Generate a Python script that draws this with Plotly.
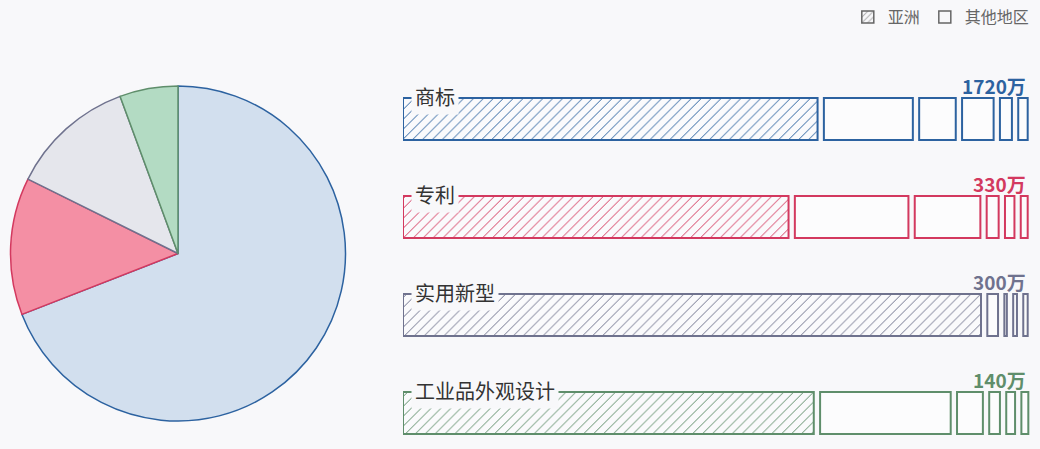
import plotly.graph_objects as go

# data
categories = ["商标", "专利", "实用新型", "工业品外观设计"]
totals = [1720, 330, 300, 140]  # 万
asia_share = [66.7, 62.1, 92.6, 66.1]  # % of each row
other_shares = [
    [15.1, 6.8, 6.0, 2.9, 2.5],
    [19.0, 11.4, 2.9, 2.5, 2.1],
    [2.7, 1.4, 1.6, 1.7],
    [21.7, 5.1, 2.7, 2.4, 2.1],
]
legend_names = ["亚洲", "其他地区"]

line_colors = ["#2c62a0", "#d3395f", "#6f728e", "#5f8e6b"]
fill_colors = ["#d2dfee", "#f48fa4", "#e5e6ec", "#b3dbc3"]
BG = "#f8f8fa"
FONT = "Noto Sans CJK SC"
GAP = 1.0  # gap between segments, in % units

fig = go.Figure()

# pie on the left
fig.add_trace(go.Pie(
    labels=categories,
    values=totals,
    sort=False,
    direction="clockwise",
    rotation=0,
    textinfo="none",
    hoverinfo="label+value",
    marker=dict(colors=fill_colors, line=dict(color=line_colors, width=1.5)),
    domain=dict(x=[10 / 1040, 346 / 1040], y=[1 - 421 / 449, 1 - 86 / 449]),
    showlegend=False,
))

# little centre dot of the pie
fig.add_trace(go.Scatter(
    x=[0], y=[0], mode="markers", xaxis="x2", yaxis="y2",
    marker=dict(size=9, color="white", line=dict(color="black", width=2)),
    showlegend=False, hoverinfo="skip",
))

# asia (hatched) segment of each row
fig.add_trace(go.Bar(
    y=categories,
    x=[v - GAP for v in asia_share],
    base=[0] * len(categories),
    orientation="h",
    width=0.43,
    marker=dict(
        color="rgba(255,255,255,0.35)",
        line=dict(color=line_colors, width=2),
        pattern=dict(shape="/", fgcolor=line_colors, bgcolor="rgba(255,255,255,0.35)",
                     size=7, solidity=0.14, fillmode="replace"),
    ),
    showlegend=False,
    hoverinfo="skip",
))

# other regions: outlined boxes
max_k = max(len(s) for s in other_shares)
for k in range(max_k):
    ys, xs, bases, cols = [], [], [], []
    for i, shares in enumerate(other_shares):
        if k < len(shares):
            start = asia_share[i] + sum(shares[:k])
            ys.append(categories[i])
            xs.append(shares[k] - GAP)
            bases.append(start)
            cols.append(line_colors[i])
    fig.add_trace(go.Bar(
        y=ys, x=xs, base=bases, orientation="h", width=0.43,
        marker=dict(color="rgba(255,255,255,0.6)", line=dict(color=cols, width=2)),
        showlegend=False, hoverinfo="skip",
    ))

# legend entries (drawn off-range so only the legend icons show)
fig.add_trace(go.Bar(
    x=[5], y=[5], xaxis="x2", yaxis="y2", name=legend_names[0],
    marker=dict(color="rgba(0,0,0,0)", line=dict(color="#666666", width=1.5),
                pattern=dict(shape="/", fgcolor="#666666", size=5, solidity=0.25)),
))
fig.add_trace(go.Bar(
    x=[5], y=[5], xaxis="x2", yaxis="y2", name=legend_names[1],
    marker=dict(color="rgba(0,0,0,0)", line=dict(color="#666666", width=1.5)),
))

annotations = []
for i, cat in enumerate(categories):
    annotations.append(dict(
        x=0, y=cat, xref="x", yref="y", text=cat, showarrow=False,
        xanchor="left", yanchor="middle", xshift=8, yshift=23,
        bgcolor=BG, borderpad=3,
        font=dict(family=FONT, size=20, color="#333333"),
    ))
    annotations.append(dict(
        x=100 - GAP, y=cat, xref="x", yref="y", text=f"<b>{totals[i]}万</b>",
        showarrow=False, xanchor="right", yanchor="middle", yshift=34,
        font=dict(family=FONT, size=19, color=line_colors[i]),
    ))

fig.update_layout(
    width=1040, height=449,
    margin=dict(l=0, r=0, t=0, b=0),
    paper_bgcolor=BG, plot_bgcolor=BG,
    barmode="overlay",
    font=dict(family=FONT),
    xaxis=dict(domain=[403 / 1040, 1034 / 1040], range=[0, 100], visible=False),
    yaxis=dict(domain=[0, 1 - 70 / 449], range=[3.367, -0.5], visible=False,
               type="category", categoryorder="array", categoryarray=categories),
    xaxis2=dict(domain=[10 / 1040, 346 / 1040], range=[-1, 1], visible=False),
    yaxis2=dict(domain=[1 - 421 / 449, 1 - 86 / 449], range=[-1, 1], visible=False),
    legend=dict(orientation="h", x=0.995, xanchor="right", y=1.0, yanchor="top",
                font=dict(family=FONT, size=16, color="#666666"),
                bgcolor="rgba(0,0,0,0)", itemwidth=30),
    annotations=annotations,
)

# page body has a default margin; drop it so the figure fills the window
fig.write_html("out.html", config={"displayModeBar": False},
               post_script="document.body.style.margin='0';")
